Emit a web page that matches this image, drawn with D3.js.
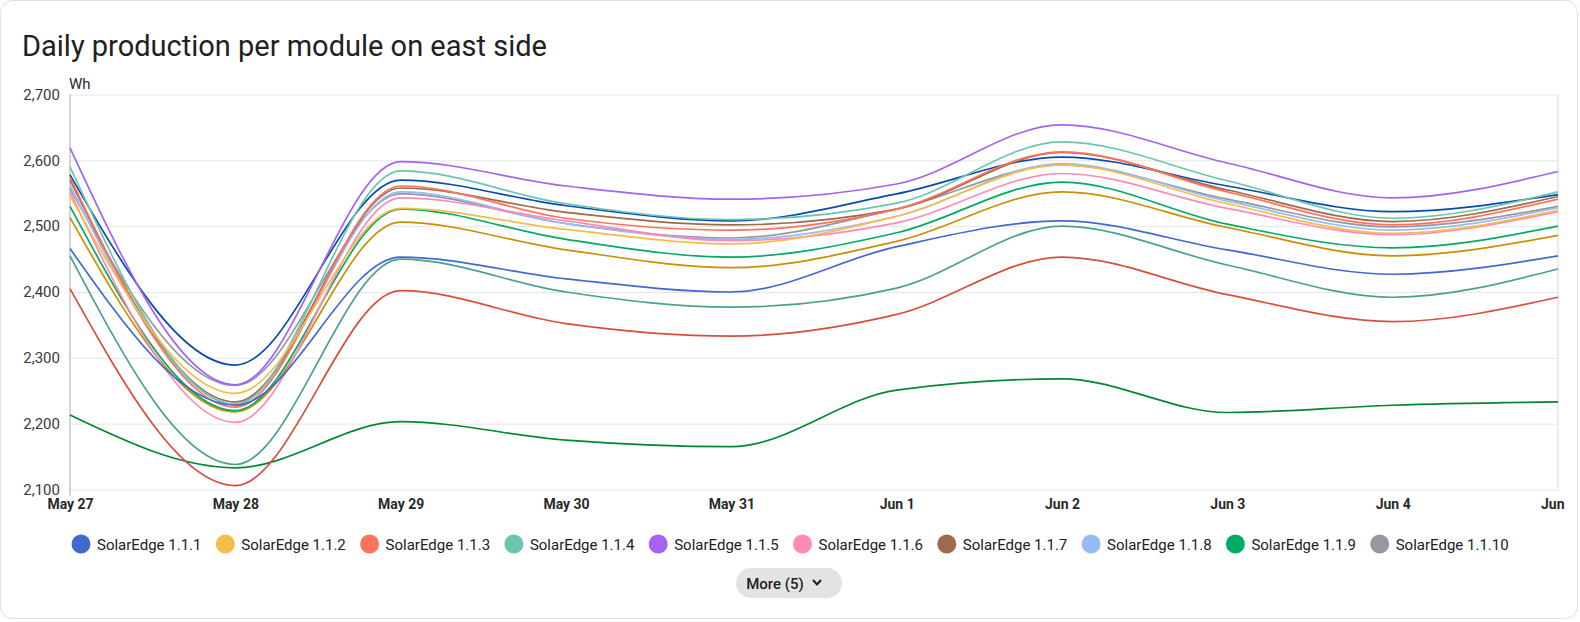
<!DOCTYPE html>
<html>
<head>
<meta charset="utf-8">
<script src="https://cdn.jsdelivr.net/npm/d3@7"></script>
<style>
  html, body { margin: 0; padding: 0; background: #ffffff; }
  svg { display: block; font-family: Roboto, "Noto Sans", sans-serif; }
</style>
</head>
<body>
<svg id="chart" width="1580" height="622"></svg>
<script>
const title = "Daily production per module on east side";
const unit = "Wh";
const dates = ["2024-05-27","2024-05-28","2024-05-29","2024-05-30","2024-05-31","2024-06-01","2024-06-02","2024-06-03","2024-06-04","2024-06-05"];
const yTicks = [2100, 2200, 2300, 2400, 2500, 2600, 2700];
const seriesNames = ["SolarEdge 1.1.1","SolarEdge 1.1.2","SolarEdge 1.1.3","SolarEdge 1.1.4","SolarEdge 1.1.5","SolarEdge 1.1.6","SolarEdge 1.1.7","SolarEdge 1.1.8","SolarEdge 1.1.9","SolarEdge 1.1.10","SolarEdge 1.1.11","SolarEdge 1.1.12","SolarEdge 1.1.13","SolarEdge 1.1.14","SolarEdge 1.1.15"];
const seriesColors = ["#4269d0","#f4bd4a","#ff725c","#6cc5b0","#a463f2","#ff8ab7","#9c6b4e","#97bbf5","#01ab63","#9498a0","#094bad","#c99000","#d84f3e","#49a28f","#048732"];
const s1  = [2466, 2228, 2453, 2420, 2400, 2469, 2508, 2464, 2427, 2455];
const s2  = [2546, 2246, 2527, 2495, 2473, 2515, 2593, 2534, 2489, 2524];
const s3  = [2574, 2225, 2561, 2512, 2494, 2526, 2613, 2552, 2502, 2541];
const s4  = [2590, 2229, 2584, 2534, 2510, 2535, 2628, 2569, 2512, 2552];
const s5  = [2619, 2259, 2598, 2561, 2541, 2564, 2654, 2596, 2543, 2583];
const s6  = [2552, 2202, 2543, 2508, 2478, 2505, 2580, 2527, 2487, 2522];
const s7  = [2570, 2233, 2558, 2521, 2502, 2526, 2612, 2555, 2507, 2545];
const s8  = [2562, 2230, 2552, 2504, 2480, 2515, 2595, 2538, 2494, 2528];
const s9  = [2530, 2220, 2526, 2480, 2453, 2490, 2567, 2503, 2467, 2500];
const s10 = [2557, 2258, 2549, 2504, 2482, 2526, 2593, 2541, 2499, 2530];
const s11 = [2578, 2289, 2570, 2531, 2508, 2549, 2605, 2561, 2522, 2548];
const s12 = [2513, 2218, 2506, 2464, 2437, 2477, 2552, 2498, 2455, 2486];
const s13 = [2405, 2106, 2402, 2352, 2333, 2366, 2453, 2396, 2355, 2392];
const s14 = [2455, 2138, 2450, 2400, 2377, 2406, 2500, 2441, 2392, 2435];
const s15 = [2213, 2133, 2203, 2175, 2165, 2251, 2268, 2217, 2228, 2233];
const seriesValues = [s1,s2,s3,s4,s5,s6,s7,s8,s9,s10,s11,s12,s13,s14,s15];
const legendShown = 10;
const moreLabel = "More (5)";

const svg = d3.select("#chart");
const parse = d3.timeParse("%Y-%m-%d");
const xDates = dates.map(parse);

// card
svg.append("rect").attr("x", 0.5).attr("y", 0.5).attr("width", 1577).attr("height", 618)
  .attr("rx", 12).attr("fill", "#ffffff").attr("stroke", "#e0e0e0");

svg.append("text").attr("x", 22).attr("y", 56).attr("font-size", 29).attr("fill", "#212121")
  .text(title);

const mLeft = 70, mRight = 1558, mTop = 94.5, mBottom = 489.5;
const x = d3.scaleTime().domain(d3.extent(xDates)).range([mLeft, mRight]);
const y = d3.scaleLinear().domain([2100, 2700]).range([mBottom, mTop]);

svg.append("defs").append("clipPath").attr("id", "cardclip")
  .append("rect").attr("x", 0).attr("y", 0).attr("width", 1568).attr("height", 622);

// horizontal grid
const gy = svg.append("g").attr("transform", `translate(${mLeft},0)`)
  .call(d3.axisLeft(y).tickValues(yTicks).tickSize(-(mRight - mLeft)).tickPadding(10).tickFormat(d3.format(",")));
gy.select(".domain").remove();
gy.selectAll(".tick line").attr("stroke", "#e6e6e6");
gy.selectAll(".tick text").attr("font-size", 15).attr("fill", "#3a3a3a").attr("font-family", "Roboto");

// vertical grid + x labels
const gx = svg.append("g").attr("transform", `translate(0,${mBottom})`).attr("clip-path", "url(#cardclip)")
  .call(d3.axisBottom(x).tickValues(xDates).tickSize(-(mBottom - mTop)).tickPadding(10)
    .tickFormat(d3.timeFormat("%b %-d")));
gx.select(".domain").remove();
gx.selectAll(".tick line").attr("stroke", "#e6e6e6");
gx.selectAll(".tick text").attr("font-size", 14).attr("font-weight", 700).attr("fill", "#2a2a2a").attr("font-family", "Roboto");

// axis line at left and right edge
svg.append("line").attr("x1", mLeft).attr("x2", mLeft).attr("y1", mTop).attr("y2", mBottom + 6).attr("stroke", "#aaa");
svg.append("line").attr("x1", mRight).attr("x2", mRight).attr("y1", mTop).attr("y2", mBottom).attr("stroke", "#d8d8d8");

svg.append("text").attr("x", 69).attr("y", 89).attr("font-size", 15).attr("fill", "#2a2a2a").text(unit);

// lines
const line = d3.line().x((d, i) => x(xDates[i])).y(d => y(d)).curve(d3.curveMonotoneX);
const order = d3.range(seriesValues.length).reverse();
svg.append("g").selectAll("path").data(order).join("path")
  .attr("d", i => line(seriesValues[i]))
  .attr("fill", "none").attr("stroke", i => seriesColors[i]).attr("stroke-width", 1.7);

// legend
const lg = svg.append("g").selectAll("g").data(d3.range(legendShown)).join("g")
  .attr("transform", i => `translate(${81 + i * 144.3},544)`);
lg.append("circle").attr("r", 9.5).attr("fill", i => seriesColors[i]);
lg.append("text").attr("x", 16).attr("y", 5.5).attr("font-size", 15).attr("fill", "#212121").text(i => seriesNames[i]);

// more button
const mb = svg.append("g").attr("transform", "translate(789,583)");
mb.append("rect").attr("x", -53).attr("y", -15).attr("width", 106).attr("height", 30).attr("rx", 15).attr("fill", "#e3e3e3");
mb.append("text").attr("x", -14).attr("y", 5.5).attr("text-anchor", "middle").attr("font-size", 15).attr("font-weight", 500).attr("fill", "#212121").text(moreLabel);
mb.append("path").attr("d", "M 24 -3 L 28 1.5 L 32 -3").attr("fill", "none").attr("stroke", "#212121").attr("stroke-width", 2);
</script>
</body>
</html>
